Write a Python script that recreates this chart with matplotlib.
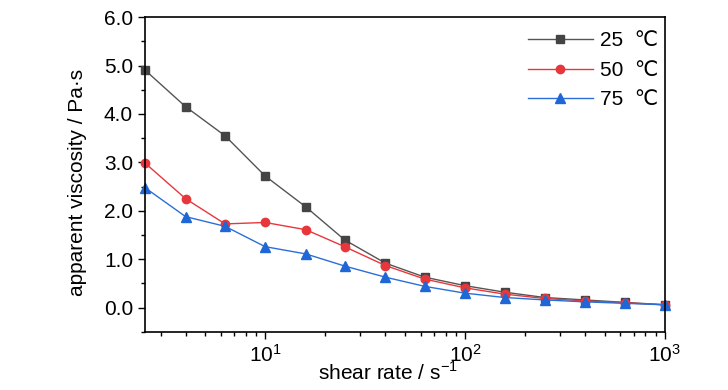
import matplotlib.pyplot as plt
from matplotlib.ticker import MultipleLocator, LogLocator, NullFormatter

plt.rcParams['font.family'] = ['Liberation Sans', 'DejaVu Sans']
plt.rcParams['mathtext.fontset'] = 'custom'
plt.rcParams['mathtext.rm'] = 'Liberation Sans'

shear_rate = [2.5, 4, 6.3, 10, 16, 25, 40, 63, 100, 158, 251, 398, 631, 1000]
visc_25 = [4.91, 4.15, 3.55, 2.72, 2.08, 1.40, 0.92, 0.63, 0.455, 0.32, 0.21, 0.16, 0.11, 0.06]
visc_50 = [2.99, 2.25, 1.73, 1.76, 1.61, 1.26, 0.87, 0.59, 0.41, 0.28, 0.19, 0.14, 0.10, 0.06]
visc_75 = [2.48, 1.88, 1.68, 1.26, 1.11, 0.86, 0.63, 0.44, 0.30, 0.21, 0.16, 0.12, 0.09, 0.06]
labels = ['25  \u2103', '50  \u2103', '75  \u2103']

fig = plt.figure(figsize=(7.28, 3.9), dpi=100)
ax = fig.add_axes([0.199, 0.149, 0.714, 0.807])

ax.plot(shear_rate, visc_25, '-s', color='#555555', mfc='#444444', mec='#444444',
        lw=1, ms=6, label=labels[0], clip_on=False)
ax.plot(shear_rate, visc_50, '-o', color='#e8373c', mfc='#e8373c', mec='#e8373c',
        lw=1, ms=6, label=labels[1], clip_on=False)
ax.plot(shear_rate, visc_75, '-^', color='#2a6fd8', mfc='#1f66d6', mec='#1f66d6',
        lw=1, ms=6.5, label=labels[2], clip_on=False)

ax.set_xscale('log')
ax.set_xlim(2.5, 1000)
ax.set_ylim(-0.5, 6.0)
ax.yaxis.set_major_locator(MultipleLocator(1.0))
ax.yaxis.set_minor_locator(MultipleLocator(0.5))
ax.yaxis.set_major_formatter(plt.FormatStrFormatter('%.1f'))
ax.xaxis.set_major_locator(LogLocator(base=10))
ax.xaxis.set_minor_locator(LogLocator(base=10, subs=range(2, 10)))
ax.xaxis.set_minor_formatter(NullFormatter())

ax.tick_params(which='both', direction='out', top=False, right=False, labelsize=15)
ax.tick_params(which='major', length=5, width=1)
ax.tick_params(which='minor', length=3, width=1)
for s in ax.spines.values():
    s.set_linewidth(1.2)

ax.set_ylabel('apparent viscosity / Pa\u00b7s', fontsize=15)
ax.yaxis.set_label_coords(-0.112, 0.476)
ax.set_xlabel('shear rate / s$^{-1}$', fontsize=15)
ax.xaxis.set_label_coords(0.467, -0.092)

ax.legend(loc='upper left', frameon=False, fontsize=15, handlelength=3.1,
          handletextpad=0.35, labelspacing=0.5, borderaxespad=0,
          bbox_to_anchor=(0.721, 0.981))

fig.savefig('out.png', dpi=100)
